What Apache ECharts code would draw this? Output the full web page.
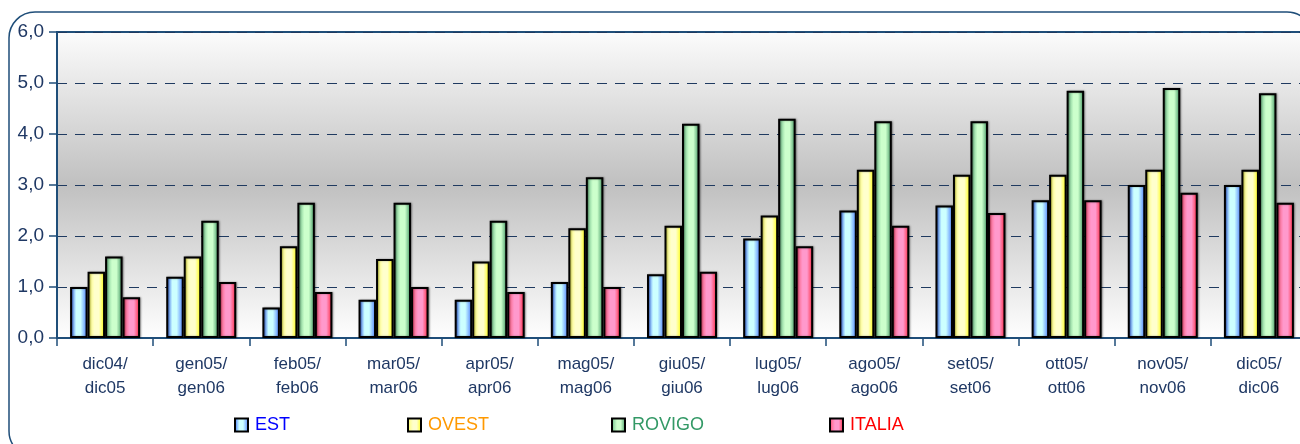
<!DOCTYPE html>
<html>
<head>
<meta charset="utf-8">
<script src="https://cdn.jsdelivr.net/npm/echarts@6/dist/echarts.min.js"></script>
<style>html,body{margin:0;padding:0;background:#fff;}#c{width:1300px;height:444px;}</style>
</head>
<body>
<div id="c"></div>
<script>
const categories = ['dic04/\ndic05','gen05/\ngen06','feb05/\nfeb06','mar05/\nmar06','apr05/\napr06','mag05/\nmag06','giu05/\ngiu06','lug05/\nlug06','ago05/\nago06','set05/\nset06','ott05/\nott06','nov05/\nnov06','dic05/\ndic06'];
const est    = [1.0, 1.2, 0.6, 0.75, 0.75, 1.1, 1.25, 1.95, 2.5, 2.6, 2.7, 3.0, 3.0];
const ovest  = [1.3, 1.6, 1.8, 1.55, 1.5, 2.15, 2.2, 2.4, 3.3, 3.2, 3.2, 3.3, 3.3];
const rovigo = [1.6, 2.3, 2.65, 2.65, 2.3, 3.15, 4.2, 4.3, 4.25, 4.25, 4.85, 4.9, 4.8];
const italia = [0.8, 1.1, 0.9, 1.0, 0.9, 1.0, 1.3, 1.8, 2.2, 2.45, 2.7, 2.85, 2.65];
const seriesNames = ['EST','OVEST','ROVIGO','ITALIA'];
const yTicks = [0,1,2,3,4,5,6];

const G = echarts.graphic.LinearGradient;
function grad(stops){
  return new G(0,0,1,0, stops.map(s=>({offset:s[0], color:s[1]})));
}
const fills = [
  grad([[0,'#3366ee'],[0.15,'#6fa3ff'],[0.35,'#ccffff'],[0.6,'#ccffff'],[0.8,'#88bbff'],[1,'#4477ff']]),
  grad([[0,'#ffff22'],[0.2,'#ffff99'],[0.4,'#ffffcc'],[0.65,'#ffffcc'],[0.85,'#ffff55'],[1,'#ffff00']]),
  grad([[0,'#55a870'],[0.2,'#99dda8'],[0.4,'#ccffcc'],[0.65,'#ccffcc'],[0.85,'#77bf8c'],[1,'#4a965f']]),
  grad([[0,'#ff2255'],[0.2,'#ff77a0'],[0.4,'#ff99cc'],[0.65,'#ff99cc'],[0.85,'#ff5577'],[1,'#ff0033']])
];
const textColors = ['#0000ff','#ff9900','#339966','#ff0000'];
const legendLeft = [234, 407, 611, 829];

const chart = echarts.init(document.getElementById('c'), null, {renderer:'canvas'});
const dataSets = [est, ovest, rovigo, italia];
const labelColor = '#1f3864';
chart.setOption({
  animation:false,
  textStyle:{fontFamily:'Liberation Sans, Arial, sans-serif'},
  graphic:[{
    type:'rect', silent:true, z:-10,
    shape:{x:9,y:12,width:1304,height:445,r:26},
    style:{fill:'#fff', stroke:'#1f4e79', lineWidth:1.5}
  }],
  legend: seriesNames.map((n,i)=>({
    data:[n], left:legendLeft[i], top:416, padding:0, icon:'rect', itemWidth:13, itemHeight:13, itemGap:0,
    itemStyle:{borderColor:'#000', borderWidth:2},
    textStyle:{color:textColors[i], fontSize:18, padding:[0,0,0,2]}
  })),
  grid:{left:57, top:32, right:-7, bottom:106, show:true, outerBoundsMode:'none', containLabel:false,
    borderColor:'#1f4e79', borderWidth:2,
    backgroundColor:new G(0,0,0,1,[
      {offset:0,color:'#fcfcfc'},{offset:0.5,color:'#c0c0c0'},{offset:1,color:'#ffffff'}
    ])},
  xAxis:{type:'category', data:categories,
    axisLine:{lineStyle:{color:'#1f4e79', width:2}},
    axisTick:{show:true, length:8, lineStyle:{color:'#1f4e79', width:1.5}},
    axisLabel:{color:labelColor, fontSize:17, lineHeight:24, margin:14, interval:0}
  },
  yAxis:{type:'value', min:yTicks[0], max:yTicks[yTicks.length-1], interval:1,
    axisLine:{show:true, lineStyle:{color:'#1f4e79', width:2}},
    axisTick:{show:true, length:8, lineStyle:{color:'#1f4e79', width:1.5}},
    axisLabel:{color:labelColor, fontSize:19, margin:13, formatter:v=>v.toFixed(1).replace('.',',')},
    splitLine:{show:true, lineStyle:{color:'#1f3a60', type:[10,8], width:1}}
  },
  series: seriesNames.map((n,i)=>({
    name:n, type:'bar', data:dataSets[i], barWidth:17.5, barGap:'0%',
    itemStyle:{color:fills[i], borderColor:'#000', borderWidth:2,
      shadowColor:'rgba(0,0,0,0.35)', shadowBlur:2, shadowOffsetX:1, shadowOffsetY:0}
  }))
});
</script>
</body>
</html>
